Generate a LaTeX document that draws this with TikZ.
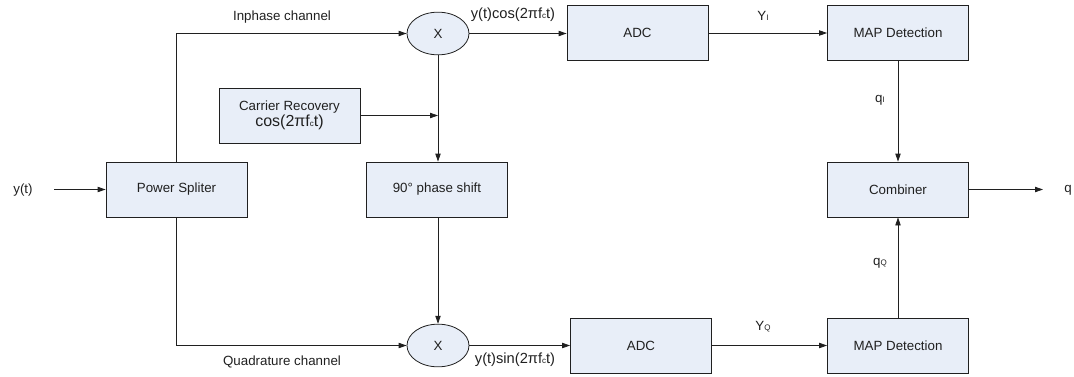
\documentclass[tikz,border=0pt]{standalone}
\usepackage{fontspec}
\setmainfont{Liberation Sans}
\usetikzlibrary{arrows.meta,shapes.geometric}
\definecolor{boxfill}{HTML}{E8EEF8}
\definecolor{ink}{HTML}{202020}
\newcommand{\lowsub}[1]{{\fontsize{6}{6}\selectfont #1}}
\begin{document}
\begin{tikzpicture}[x=0.75pt,y=-0.75pt,
  every node/.style={font=\fontsize{10}{12}\selectfont,text=ink},
  block/.style={draw=ink,fill=boxfill,line width=0.6pt,minimum width=105.75pt,minimum height=41.25pt,inner sep=0pt},
  mult/.style={draw=ink,fill=boxfill,ellipse,line width=0.6pt,minimum width=46.5pt,minimum height=32pt,inner sep=0pt},
  big/.style={font=\fontsize{11}{13}\selectfont},
  arr/.style={draw=ink,line width=0.6pt,-{Triangle[length=6pt,width=4pt]}},
  wire/.style={draw=ink,line width=0.6pt}]
\useasboundingbox (0,0) rectangle (1074,376);

% blocks
\node[block] (split) at (176.5,189.5) {Power Spliter};
\node[block] (carrier) at (289.5,115.5) {\begin{tabular}{@{}c@{}}Carrier Recovery\\[0pt]{\fontsize{12}{13}\selectfont cos(2πf\lowsub{c}t)}\end{tabular}};
\node[block] (shift) at (437,189.5) {90° phase shift};
\node[mult] (mul1) at (438,33.5) {X};
\node[mult] (mul2) at (438,345.5) {X};
\node[block] (adc1) at (637.5,33) {ADC};
\node[block] (adc2) at (641,345.5) {ADC};
\node[block] (map1) at (898,33) {MAP Detection};
\node[block] (map2) at (898,345.5) {MAP Detection};
\node[block] (comb) at (898,189.5) {Combiner};

% input and output
\node (yin) at (23,190) {y(t)};
\coordinate (yinend) at (54,189.5);
\node (qout) at (1068,190) {q};
\coordinate (qoutend) at (1043,189.5);

% connectors
\draw[arr] (yinend) -- (split.west);
\draw[arr] (split.north -| 176.5,0) |- (mul1.west);
\draw[arr] (split.south -| 176.5,0) |- (mul2.west);
\draw[arr] (carrier.east) -- (carrier.east -| mul1.south);
\draw[arr] (mul1.south) -- (mul1.south |- shift.north);
\draw[arr] (shift.south -| mul2.north) -- (mul2.north);
\draw[arr] (mul1.east) -- (mul1.east -| adc1.west);
\draw[arr] (mul2.east) -- (mul2.east -| adc2.west);
\draw[arr] (adc1.east) -- (map1.west);
\draw[arr] (adc2.east) -- (map2.west);
\draw[arr] (map1.south) -- (comb.north);
\draw[arr] (map2.north) -- (comb.south);
\draw[arr] (comb.east) -- (qoutend);

% signal labels
\node at (282,17) {Inphase channel};
\node at (282,362) {Quadrature channel};
\node[big] at (513,15) {y(t)cos(2πf\lowsub{c}t)};
\node[big] at (515,360) {y(t)sin(2πf\lowsub{c}t)};
\node at (763,16) {Y\lowsub{I}};
\node at (763,327) {Y\lowsub{Q}};
\node at (880,100) {q\lowsub{I}};
\node at (880,263) {q\lowsub{Q}};
\end{tikzpicture}
\end{document}
